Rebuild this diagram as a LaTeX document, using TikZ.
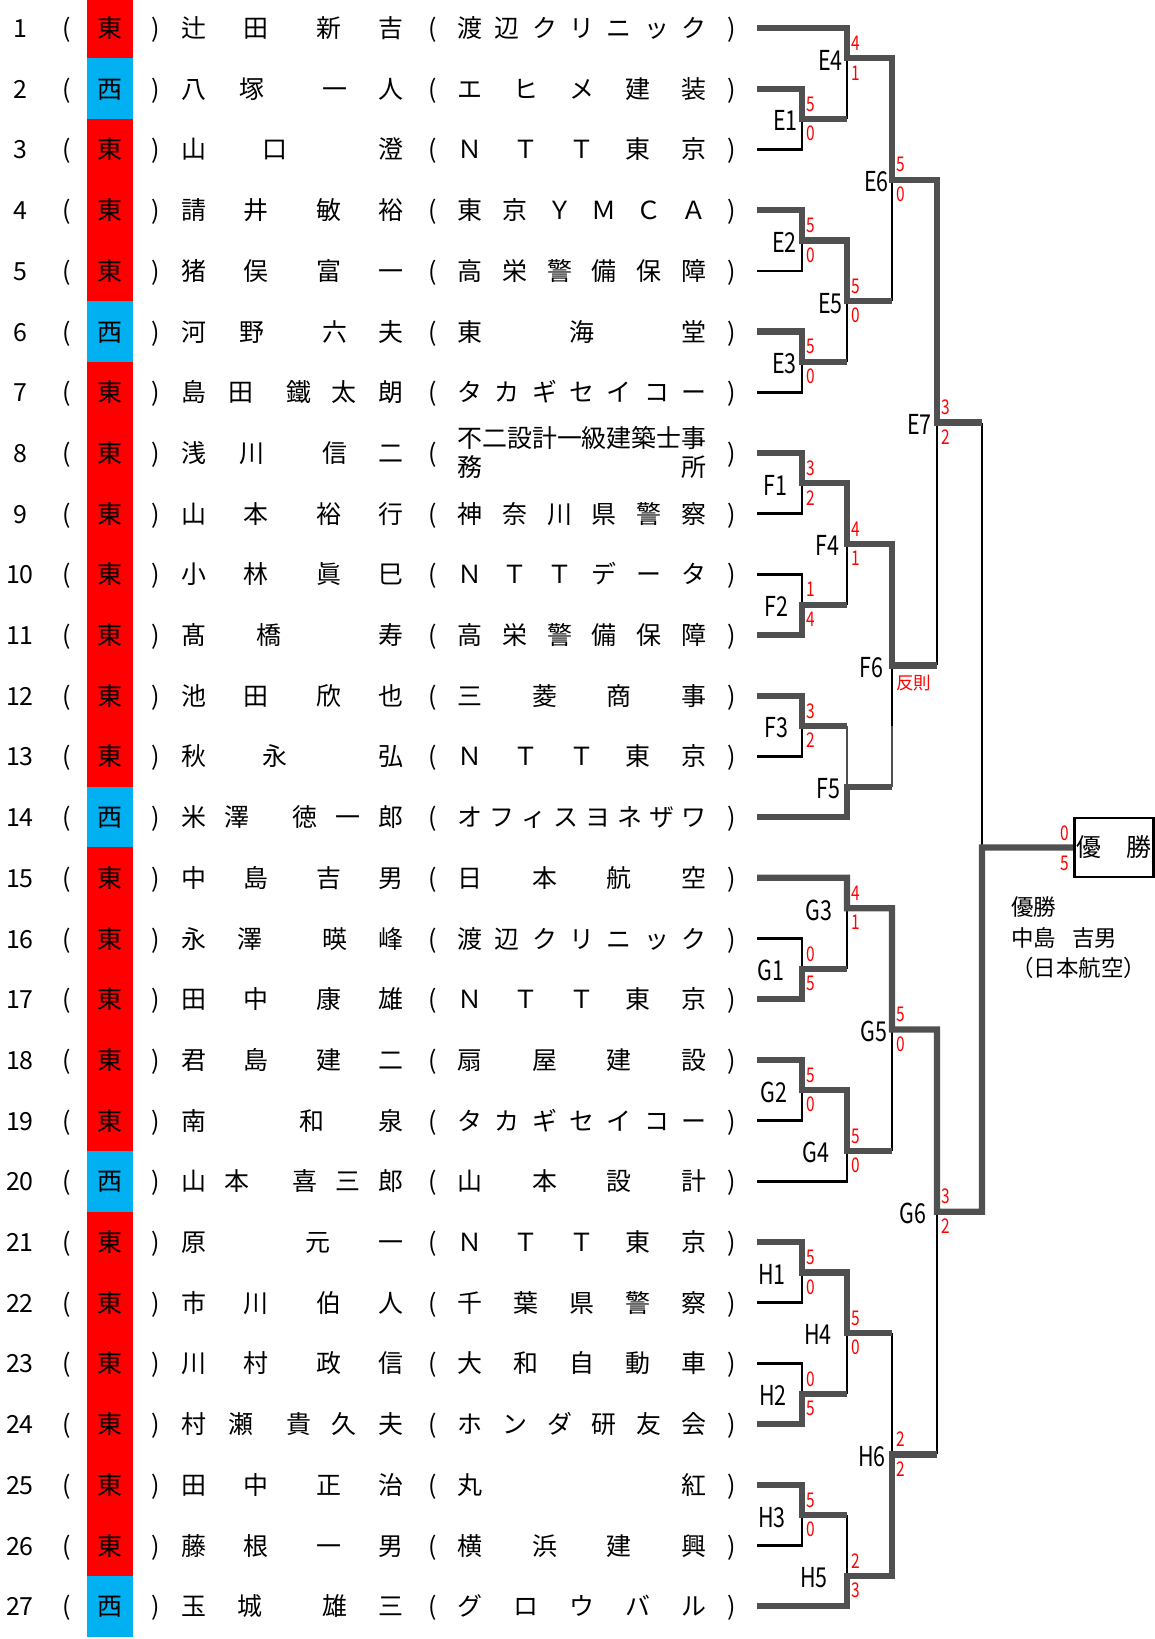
\documentclass[tikz,border=0pt]{standalone}
\usepackage{fontspec}
\setmainfont{Noto Sans CJK JP}
\usetikzlibrary{calc}
\definecolor{ered}{HTML}{FF0000}
\definecolor{wblue}{HTML}{00B0F0}
\definecolor{bgray}{HTML}{505050}
\tikzset{
  txt/.style={inner sep=0pt, anchor=base, font=\fontsize{14.2}{17}\selectfont},
  mlab/.style={inner sep=0pt, anchor=base east, font=\fontsize{14.2}{17}\selectfont},
  score/.style={inner sep=0pt, anchor=west, text=ered, font=\fontsize{11}{13}\selectfont},
  chtxt/.style={inner sep=0pt, anchor=base west, font=\fontsize{12.8}{15}\selectfont},
  sidebox/.style={inner sep=0pt, minimum width=0.92cm, minimum height=1.22cm},
  champbox/.style={draw, line width=0.052cm, inner sep=0pt, minimum width=1.58cm, minimum height=1.18cm, font=\fontsize{14.2}{17}\selectfont},
  win/.style={draw=bgray, line width=0.126cm},
  lose/.style={draw=black, line width=0.052cm},
  foul/.style={draw=bgray, line width=0.052cm}
}
% one row of the list: row, side, side colour, name x/char, team count, team chars
\newcommand{\entry}[6]{%
  \pgfmathsetmacro{\ey}{28+60.7*(#1-1)}%
  \pgfmathsetmacro{\eb}{\ey+9.5}%
  \node[txt] (no#1) at (20,\eb) {#1};
  \node[txt] (pl#1) at (67,\eb) {(};
  \node[sidebox, fill=#3] (s#1) at (110,\ey) {};
  \node[txt] (k#1) at (110,\eb) {#2};
  \node[txt] (pr#1) at (156,\eb) {)};
  \foreach \x/\c [count=\k] in {#4} {\node[txt] (n#1-\k) at (\x,\eb) {\c};}
  \node[txt] (ql#1) at (433,\eb) {(};
  \ifnum#5>0 \foreach \c [count=\k] in {#6} {\pgfmathsetmacro{\tx}{470+(\k-1)*224/(#5-1)}\node[txt] (t#1-\k) at (\tx,\eb) {\c};}\fi
  \node[txt] (qr#1) at (732,\eb) {)};
  \coordinate (p#1) at (757,\ey);}
% one match: name, x, row boundary, right edge of label
\newcommand{\mt}[4]{%
  \coordinate (#1) at (#2,{60.7*#3-2.35});
  \node[mlab] (#1l) at (#4,{60.7*#3+9.5}) {\scalebox{0.86}[1.1]{#1}};}
\newcommand{\sco}[3]{%
  \node[score] (#1t) at ($(#1)+(4,-15)$) {\scalebox{0.8}[1.05]{#2}};
  \node[score] (#1b) at ($(#1)+(4,14.5)$) {\scalebox{0.8}[1.05]{#3}};}

\begin{document}
\begin{tikzpicture}[x=0.02cm, y=-0.02cm]
    \useasboundingbox (0,0) rectangle (1155,1639);
\entry{1}{東}{ered}{194/辻,256/田,329/新,391/吉}{7}{渡,辺,ク,リ,ニ,ッ,ク} % 1
\entry{2}{西}{wblue}{194/八,252/塚,335/一,391/人}{5}{エ,ヒ,メ,建,装} % 2
\entry{3}{東}{ered}{194/山,275/口,391/澄}{5}{Ｎ,Ｔ,Ｔ,東,京} % 3
\entry{4}{東}{ered}{194/請,256/井,329/敏,391/裕}{6}{東,京,Ｙ,Ｍ,Ｃ,Ａ} % 4
\entry{5}{東}{ered}{194/猪,256/俣,329/富,391/一}{6}{高,栄,警,備,保,障} % 5
\entry{6}{西}{wblue}{194/河,252/野,335/六,391/夫}{3}{東,海,堂} % 6
\entry{7}{東}{ered}{194/島,241/田,299/鐵,344/太,391/朗}{7}{タ,カ,ギ,セ,イ,コ,ー} % 7
\entry{8}{東}{ered}{194/浅,252/川,335/信,391/二}{0}{} % 8
\entry{9}{東}{ered}{194/山,256/本,329/裕,391/行}{6}{神,奈,川,県,警,察} % 9
\entry{10}{東}{ered}{194/小,256/林,329/眞,391/巳}{6}{Ｎ,Ｔ,Ｔ,デ,ー,タ} % 10
\entry{11}{東}{ered}{194/髙,269/橋,391/寿}{6}{高,栄,警,備,保,障} % 11
\entry{12}{東}{ered}{194/池,256/田,329/欣,391/也}{4}{三,菱,商,事} % 12
\entry{13}{東}{ered}{194/秋,275/永,391/弘}{5}{Ｎ,Ｔ,Ｔ,東,京} % 13
\entry{14}{西}{wblue}{194/米,237/澤,305/徳,348/一,391/郎}{8}{オ,フ,ィ,ス,ヨ,ネ,ザ,ワ} % 14
\entry{15}{東}{ered}{194/中,256/島,329/吉,391/男}{4}{日,本,航,空} % 15
\entry{16}{東}{ered}{194/永,250/澤,335/暎,391/峰}{7}{渡,辺,ク,リ,ニ,ッ,ク} % 16
\entry{17}{東}{ered}{194/田,256/中,329/康,391/雄}{5}{Ｎ,Ｔ,Ｔ,東,京} % 17
\entry{18}{東}{ered}{194/君,256/島,329/建,391/二}{4}{扇,屋,建,設} % 18
\entry{19}{東}{ered}{194/南,312/和,391/泉}{7}{タ,カ,ギ,セ,イ,コ,ー} % 19
\entry{20}{西}{wblue}{194/山,237/本,305/喜,348/三,391/郎}{4}{山,本,設,計} % 20
\entry{21}{東}{ered}{194/原,318/元,391/一}{5}{Ｎ,Ｔ,Ｔ,東,京} % 21
\entry{22}{東}{ered}{194/市,256/川,329/伯,391/人}{5}{千,葉,県,警,察} % 22
\entry{23}{東}{ered}{194/川,256/村,329/政,391/信}{5}{大,和,自,動,車} % 23
\entry{24}{東}{ered}{194/村,241/瀬,299/貴,344/久,391/夫}{6}{ホ,ン,ダ,研,友,会} % 24
\entry{25}{東}{ered}{194/田,256/中,329/正,391/治}{2}{丸,紅} % 25
\entry{26}{東}{ered}{194/藤,256/根,329/一,391/男}{4}{横,浜,建,興} % 26
\entry{27}{西}{wblue}{194/玉,250/城,335/雄,391/三}{5}{グ,ロ,ウ,バ,ル} % 27
\foreach \c [count=\k] in {不,二,設,計,一,級,建,築,士,事} {\pgfmathsetmacro{\tx}{470+(\k-1)*224/9}\node[txt] (t8-\k) at (\tx,447.5) {\c};} % 8 team, line 1
\node[txt] (t8-11) at (470,476.5) {務}; % 8 team, line 2
\node[txt] (t8-12) at (694,476.5) {所}; % 8 team, line 2
\mt{E4}{847}{1}{843} % E
\mt{E1}{802}{2}{798}
\mt{E6}{892}{3}{889}
\mt{E2}{802}{4}{797}
\mt{E5}{847}{5}{843}
\mt{E3}{802}{6}{797}
\mt{E7}{937}{7}{932}
\mt{F1}{802}{8}{788} % F
\mt{F4}{847}{9}{840}
\mt{F2}{802}{10}{789}
\mt{F6}{892}{11}{884}
\mt{F3}{802}{12}{789}
\mt{F5}{847}{13}{841}
\coordinate (FIN) at (982,{60.7*14-2.35}); % final
\mt{G3}{847}{15}{833} % G
\mt{G1}{802}{16}{785}
\mt{G5}{892}{17}{888}
\mt{G2}{802}{18}{788}
\mt{G4}{847}{19}{830}
\mt{G6}{937}{20}{927}
\mt{H1}{802}{21}{786} % H
\mt{H4}{847}{22}{832}
\mt{H2}{802}{23}{787}
\mt{H6}{892}{24}{886}
\mt{H3}{802}{25}{786}
\mt{H5}{847}{26}{828}
\sco{E4}{4}{1} \sco{E1}{5}{0} \sco{E6}{5}{0} \sco{E2}{5}{0} \sco{E5}{5}{0} \sco{E3}{5}{0} \sco{E7}{3}{2}
\sco{F1}{3}{2} \sco{F4}{4}{1} \sco{F2}{1}{4} \sco{F3}{3}{2}
\node[score] (F6r) at ($(F6)+(4,18)$) {\fontsize{10}{12}\selectfont 反則}; % F6
\sco{G3}{4}{1} \sco{G1}{0}{5} \sco{G5}{5}{0} \sco{G2}{5}{0} \sco{G4}{5}{0} \sco{G6}{3}{2}
\sco{H1}{5}{0} \sco{H4}{5}{0} \sco{H2}{0}{5} \sco{H6}{2}{2} \sco{H3}{5}{0} \sco{H5}{2}{3}
\node[champbox] (champ) at (1114,847.45) {優　勝}; % winner box
\node[score] (FINt) at (1060,833.5) {\scalebox{0.8}[1.05]{0}}; % final
\node[score] (FINb) at (1060,863) {\scalebox{0.8}[1.05]{5}}; % final
\node[chtxt] (ch1) at (1011,915.5) {優勝};
\node[chtxt] (ch2) at (1011,946.5) {中島\hspace{0.32cm}吉男};
\node[chtxt] (ch3) at (1011,976.5) {（日本航空）};
\draw[lose] (p3) -| (E1); % losers
\draw[lose] (E1 -| E4) -- (E4);
\draw[lose] (p5) -| (E2);
\draw[lose] (p7) -| (E3);
\draw[lose] (E3 -| E5) -- (E5);
\draw[lose] (E5 -| E6) -- (E6);
\draw[lose] (F6 -| E7) -- (E7);
\draw[lose] (p9) -| (F1);
\draw[lose] (p10) -| (F2);
\draw[lose] (F2 -| F4) -- (F4);
\draw[lose] (p13) -| (F3);
\draw[lose] (F6) -- (F3 -| F6);
\draw[foul] (F3 -| F6) -- (F5 -| F6);
\draw[foul] (F3 -| F5) -- (F5);
\draw[lose] (E7 -| FIN) -- (FIN);
\draw[lose] (p16) -| (G1);
\draw[lose] (G1 -| G3) -- (G3);
\draw[lose] (p19) -| (G2);
\draw[lose] (p20) -| (G4);
\draw[lose] (G4 -| G5) -- (G5);
\draw[lose] (H6 -| G6) -- (G6);
\draw[lose] (p22) -| (H1);
\draw[lose] (p23) -| (H2);
\draw[lose] (H2 -| H4) -- (H4);
\draw[lose] (H4 -| H6) -- (H6);
\draw[lose] (p26) -| (H3);
\draw[lose] (H3 -| H5) -- (H5);
\draw[win] (p1) -| (E4) -| (E6) -| (E7) -- (E7 -| FIN); % winners
\draw[win] (p2) -| (E1) -- (E1 -| E4);
\draw[win] (p4) -| (E2) -| (E5) -- (E5 -| E6);
\draw[win] (p6) -| (E3) -- (E3 -| E5);
\draw[win] (p8) -| (F1) -| (F4) -| (F6) -- (F6 -| E7);
\draw[win] (p11) -| (F2) -- (F2 -| F4);
\draw[win] (p12) -| (F3) -- (F3 -| F5);
\draw[win] (p14) -| (F5) -- (F5 -| F6);
\draw[win] (p15) -| (G3) -| (G5) -| (G6) -| (FIN) -- (champ);
\draw[win] (p17) -| (G1) -- (G1 -| G3);
\draw[win] (p18) -| (G2) -| (G4) -- (G4 -| G5);
\draw[win] (p21) -| (H1) -| (H4) -- (H4 -| H6);
\draw[win] (p24) -| (H2) -- (H2 -| H4);
\draw[win] (p25) -| (H3) -- (H3 -| H5);
\draw[win] (p27) -| (H5) -| (H6) -- (H6 -| G6);
\end{tikzpicture}
\end{document}
